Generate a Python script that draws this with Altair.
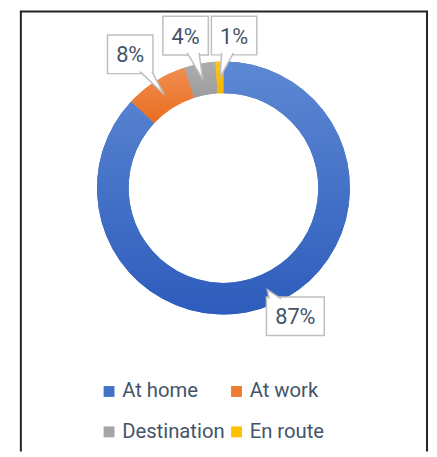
import altair as alt
import pandas as pd

# ---- data ----
categories = ["At home", "At work", "Destination", "En route"]
values = [87, 8, 4, 1]

# ---- styles ----
colors = ["#4472C4", "#ED7D31", "#A5A5A5", "#FFC000"]
grad_tops = ["#5D88D3", "#F28E52", "#ADADAD", "#FFC61A"]
grad_bots = ["#2E5CBC", "#E86D1F", "#9C9C9C", "#F2B600"]
TEXT = "#44546A"
FONT = "Roboto"

W, H = 414, 446
CX, CY = 206, 179.5
R_OUT, R_IN = 128, 96
R_TIP = 112
# callout placement per category: (angle nudge in degrees, box-centre radius)
CALLOUT = {
    "At home": (-5.9, 148.7),
    "At work": (-2.5, 164.9),
    "Destination": (-3.15, 158.9),
    "En route": (5.8, 154.6),
}

df = pd.DataFrame({"cat": categories, "value": values, "idx": list(range(len(categories)))})


def by_cat(pos):
    expr = "0"
    for k, v in reversed(list(CALLOUT.items())):
        expr = f"(datum.cat === '{k}' ? {v[pos]} : {expr})"
    return expr


base = alt.Chart(df)

arc_base = base.mark_arc(innerRadius=R_IN, outerRadius=R_OUT).encode(
    theta=alt.Theta("value:Q", stack=True),
    color=alt.Color(
        "cat:N",
        scale=alt.Scale(domain=categories, range=colors),
        sort=categories,
        legend=alt.Legend(
            title=None,
            orient="none",
            direction="horizontal",
            legendX=80,
            legendY=375,
            columns=2,
            symbolType="square",
            symbolSize=121,
            symbolStrokeWidth=0,
            labelFont=FONT,
            labelFontSize=20.5,
            labelColor=TEXT,
            labelOffset=3,
            columnPadding=1,
            rowPadding=20,
        ),
    ),
    order=alt.Order("idx:Q"),
    x=alt.value(CX),
    y=alt.value(CY),
)


def grad(top, bot):
    return {
        "gradient": "linear",
        "x1": 0, "y1": 0, "x2": 0, "y2": 1,
        "stops": [{"offset": 0, "color": top}, {"offset": 1, "color": bot}],
    }


fill_def = {
    "condition": [
        {"test": f"datum.cat === '{c}'", "value": grad(t, b)}
        for c, t, b in list(zip(categories, grad_tops, grad_bots))[:-1]
    ],
    "value": grad(grad_tops[-1], grad_bots[-1]),
}

arc_grad = base.mark_arc(innerRadius=R_IN, outerRadius=R_OUT).encode(
    theta=alt.Theta("value:Q", stack=True),
    detail=alt.Detail("cat:N"),
    order=alt.Order("idx:Q"),
    fill=fill_def,
    x=alt.value(CX),
    y=alt.value(CY),
)

lab = (
    base.transform_joinaggregate(total="sum(value)")
    .transform_window(cum="sum(value)", sort=[alt.SortField("idx")], frame=[None, 0])
    .transform_calculate(mid="(datum.cum - datum.value/2)/datum.total*2*PI")
    .transform_calculate(la=f"datum.mid + {by_cat(0)}*PI/180")
    .transform_calculate(lr=by_cat(1))
    .transform_calculate(label="format(datum.value/datum.total, '.0%')")
    .transform_calculate(bx=f"{CX} + datum.lr*sin(datum.la)")
    .transform_calculate(by=f"{CY} - datum.lr*cos(datum.la)")
    .transform_calculate(tx=f"{CX} + {R_TIP}*sin(datum.mid)")
    .transform_calculate(ty=f"{CY} - {R_TIP}*cos(datum.mid)")
    .transform_calculate(bw="21 + 12.5*length(datum.label)")
    .transform_calculate(bh="39")
    .transform_calculate(x1="datum.bx - datum.bw/2", x2="datum.bx + datum.bw/2")
    .transform_calculate(y1="datum.by - datum.bh/2", y2="datum.by + datum.bh/2")
    .transform_calculate(ddx="datum.tx - datum.bx", ddy="datum.ty - datum.by")
    .transform_calculate(
        tb="(datum.bh/2)/max(abs(datum.ddy),0.001) < (datum.bw/2)/max(abs(datum.ddx),0.001)"
    )
    .transform_calculate(
        te="min((datum.bh/2)/max(abs(datum.ddy),0.001), (datum.bw/2)/max(abs(datum.ddx),0.001))"
    )
    .transform_calculate(ex="datum.bx + datum.te*datum.ddx", ey="datum.by + datum.te*datum.ddy")
    .transform_calculate(
        p1x="datum.tb ? clamp(datum.ex, datum.x1+7, datum.x2-7) - 6 : datum.ex - (datum.ddx>0?2:-2)",
        p1y="datum.tb ? datum.ey - (datum.ddy>0?2:-2) : clamp(datum.ey, datum.y1+7, datum.y2-7) - 6",
        p2x="datum.tb ? clamp(datum.ex, datum.x1+7, datum.x2-7) + 6 : datum.ex - (datum.ddx>0?2:-2)",
        p2y="datum.tb ? datum.ey - (datum.ddy>0?2:-2) : clamp(datum.ey, datum.y1+7, datum.y2-7) + 6",
    )
    .transform_calculate(
        ptr="'M' + datum.p1x + ',' + datum.p1y + 'L' + datum.tx + ',' + datum.ty + 'L' + datum.p2x + ',' + datum.p2y"
    )
)

boxes = lab.mark_rect(fill="white", stroke="#BFBFBF", strokeWidth=1.5).encode(
    x=alt.X("x1:Q", scale=None, axis=None),
    x2="x2:Q",
    y=alt.Y("y1:Q", scale=None, axis=None),
    y2="y2:Q",
)

pointers = lab.mark_point(
    filled=True, fill="white", stroke="#BFBFBF", strokeWidth=1.5, opacity=1
).encode(
    x=alt.value(0),
    y=alt.value(0),
    shape=alt.Shape("ptr:N", scale=None, legend=None),
    size=alt.value(4),
)

texts = lab.mark_text(
    font=FONT, fontSize=22, color=TEXT, align="center", baseline="middle", dy=1
).encode(
    x=alt.X("bx:Q", scale=None, axis=None),
    y=alt.Y("by:Q", scale=None, axis=None),
    text="label:N",
)

frame_data = alt.Data(values=[{"k": 0}])
frame_left = alt.Chart(frame_data).mark_rule(color="#222222", strokeWidth=2).encode(
    x=alt.value(1), y=alt.value(1), y2=alt.value(H)
)
frame_right = alt.Chart(frame_data).mark_rule(color="#222222", strokeWidth=2).encode(
    x=alt.value(412), y=alt.value(1), y2=alt.value(H)
)
frame_top = alt.Chart(frame_data).mark_rule(color="#222222", strokeWidth=2).encode(
    x=alt.value(0), x2=alt.value(413), y=alt.value(1)
)

chart = (
    alt.layer(arc_base, arc_grad, boxes, pointers, texts, frame_left, frame_right, frame_top)
    .properties(width=W, height=H, padding={"left": 11, "top": 0, "right": 0, "bottom": 0},
                background="white")
    .configure_view(stroke=None)
)

chart.save("out.html", embed_options={"renderer": "svg", "actions": False})
